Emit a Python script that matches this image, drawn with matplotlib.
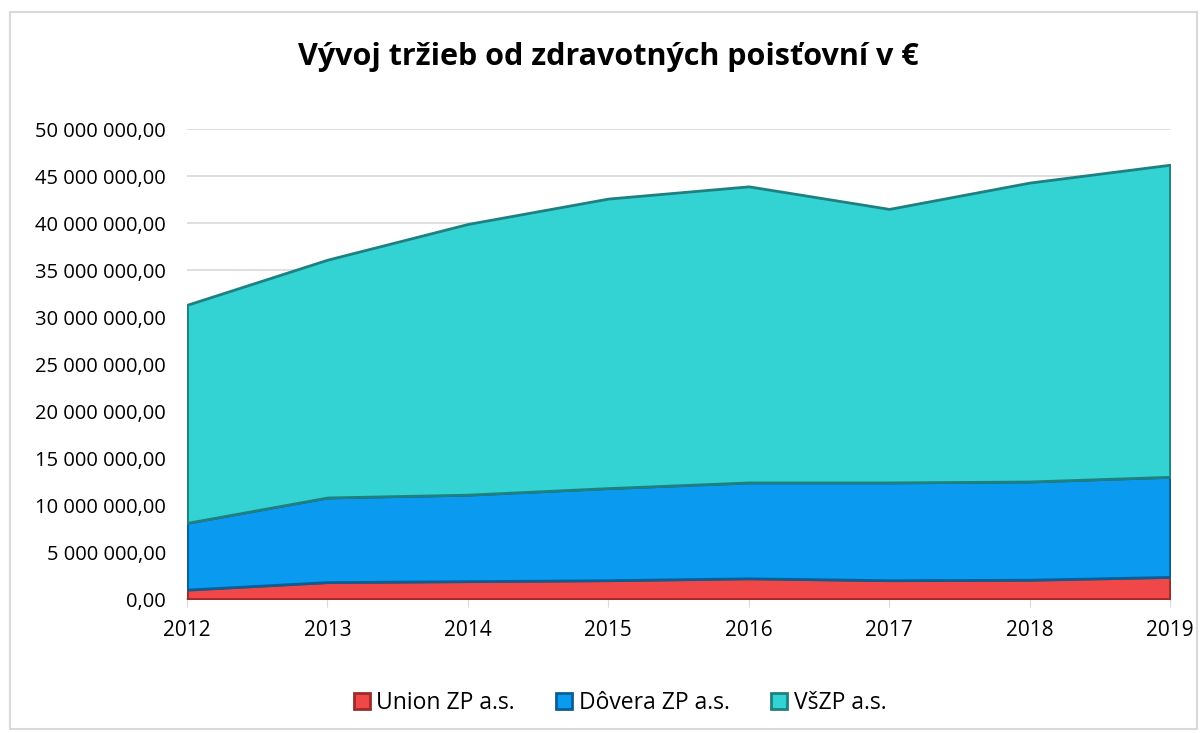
import numpy as np
import matplotlib
matplotlib.use("Agg")
import matplotlib.pyplot as plt
from matplotlib.patches import Rectangle
from matplotlib.ticker import FuncFormatter

plt.rcParams['font.family'] = ['Open Sans', 'DejaVu Sans']

# roky a tržby (v €) podľa poisťovní
years = [2012, 2013, 2014, 2015, 2016, 2017, 2018, 2019]
union = [1.00e6, 1.80e6, 1.90e6, 2.00e6, 2.20e6, 2.00e6, 2.05e6, 2.35e6]
dovera = [7.10e6, 9.00e6, 9.20e6, 9.80e6, 10.20e6, 10.40e6, 10.45e6, 10.65e6]
vszp = [23.20e6, 25.30e6, 28.80e6, 30.80e6, 31.50e6, 29.10e6, 31.80e6, 33.20e6]
series_names = ["Union ZP a.s.", "Dôvera ZP a.s.", "VšZP a.s."]
title = "Vývoj tržieb od zdravotných poisťovní v €"

colors = ["#F04848", "#0A9BF0", "#33D3D3"]
edges = ["#9E2A2A", "#075F96", "#1F8080"]

fig = plt.figure(figsize=(12.02, 7.33), dpi=100)
# rámik grafu
fig.patches.append(Rectangle((0.008, 0.006), 0.988, 0.978, transform=fig.transFigure,
                             fill=False, edgecolor="#D9D9D9", linewidth=1.5))

ax = fig.add_axes([0.1556, 0.1828, 0.8178, 0.6412])

x = np.array(years)
base = np.zeros(len(years))
for vals, c, e, name in zip([union, dovera, vszp], colors, edges, series_names):
    top = base + np.array(vals)
    ax.fill_between(x, base, top, facecolor=c, edgecolor=e, linewidth=2.0,
                    label=name, zorder=3)
    base = top

ax.set_xlim(2012, 2019)
ax.set_ylim(0, 50e6)
ax.set_yticks(np.arange(0, 50e6 + 1, 5e6))
ax.set_xticks(years)
ax.yaxis.set_major_formatter(FuncFormatter(
    lambda v, p: f"{v:,.2f}".replace(",", " ").replace(".", ",")))

ax.grid(axis="y", color="#D9D9D9", linewidth=1.2, zorder=0)
for s in ["left", "right", "top"]:
    ax.spines[s].set_visible(False)
ax.spines["bottom"].set_color("#D9D9D9")
ax.spines["bottom"].set_linewidth(1.5)
ax.tick_params(axis="y", length=0, labelsize=14.5, pad=15)
ax.tick_params(axis="x", length=6, color="#D9D9D9", labelsize=15, pad=9)

fig.suptitle(title, fontsize=22, fontweight="bold", x=0.506, y=0.922, va="center")

leg = fig.legend(loc="center", bbox_to_anchor=(0.516, 0.041), ncol=3, frameon=False,
                 fontsize=16.5, handlelength=0.7, handleheight=0.7, columnspacing=1.8,
                 handletextpad=0.3)

fig.savefig("out.png", dpi=100)
